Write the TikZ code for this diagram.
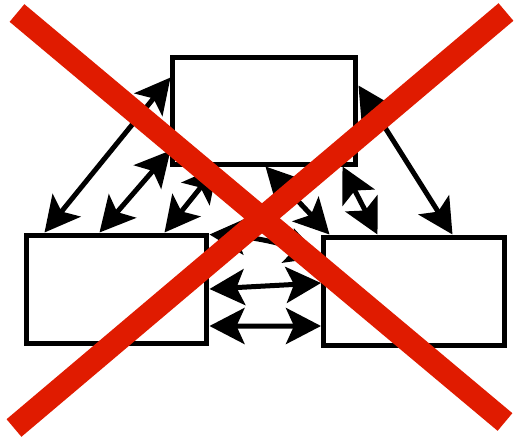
\documentclass[tikz,border=0pt]{standalone}
\usetikzlibrary{arrows.meta}
\definecolor{xred}{HTML}{E01B00}

\begin{document}
\begin{tikzpicture}[
    >={Stealth[length=7mm, width=7.2mm, inset=1.6mm]},
    box/.style={draw, line width=1mm, fill=white, inner sep=0pt, minimum width=3.62cm, minimum height=2.16cm},
    link/.style={<->, line width=1mm},
    cross/.style={draw=xred, line width=4.6mm},
]
    \useasboundingbox (0,0) rectangle (10.32,-8.74);

    % =====================================================================
    % BOXES
    % =====================================================================
    \node[box, minimum width=3.66cm, minimum height=2.14cm] (b_top) at (5.29,-2.21) {};
    \node[box] (b_left) at (2.33,-5.78) {};
    \node[box] (b_right) at (8.28,-5.82) {};

    % =====================================================================
    % LINKS
    % =====================================================================
    % top <-> left
    \draw[link] ([yshift=-4.6mm]b_top.north west) -- ([xshift=4.2mm]b_left.north west);
    \draw[link] ([yshift=3.2mm]b_top.south west) -- ([xshift=15.2mm]b_left.north west);
    \draw[link] ([xshift=9.4mm]b_top.south west) -- ([xshift=28.2mm]b_left.north west);

    % top <-> right
    \draw[link] ([yshift=-6.2mm]b_top.north east) -- ([xshift=26.3mm]b_right.north west);
    \draw[link] ([xshift=-3.2mm]b_top.south east) -- ([xshift=11.3mm]b_right.north west);
    \draw[link] ([xshift=19mm]b_top.south west) -- ([xshift=1.7mm]b_right.north west);

    % left <-> right
    \draw[link] ([yshift=-0.4mm]b_left.north east) to[bend left=8] ([yshift=-4.6mm]b_right.north west);
    \draw[link] (b_left.east) -- ([yshift=1.6mm]b_right.west);
    \draw[link] ([yshift=-7.4mm]b_left.east) -- ([yshift=-7.0mm]b_right.west);

    % =====================================================================
    % CROSS
    % =====================================================================
    \draw[cross] (0.34,-0.26) -- (10.10,-8.44);
    \draw[cross] (10.12,-0.24) -- (0.28,-8.56);

\end{tikzpicture}
\end{document}
